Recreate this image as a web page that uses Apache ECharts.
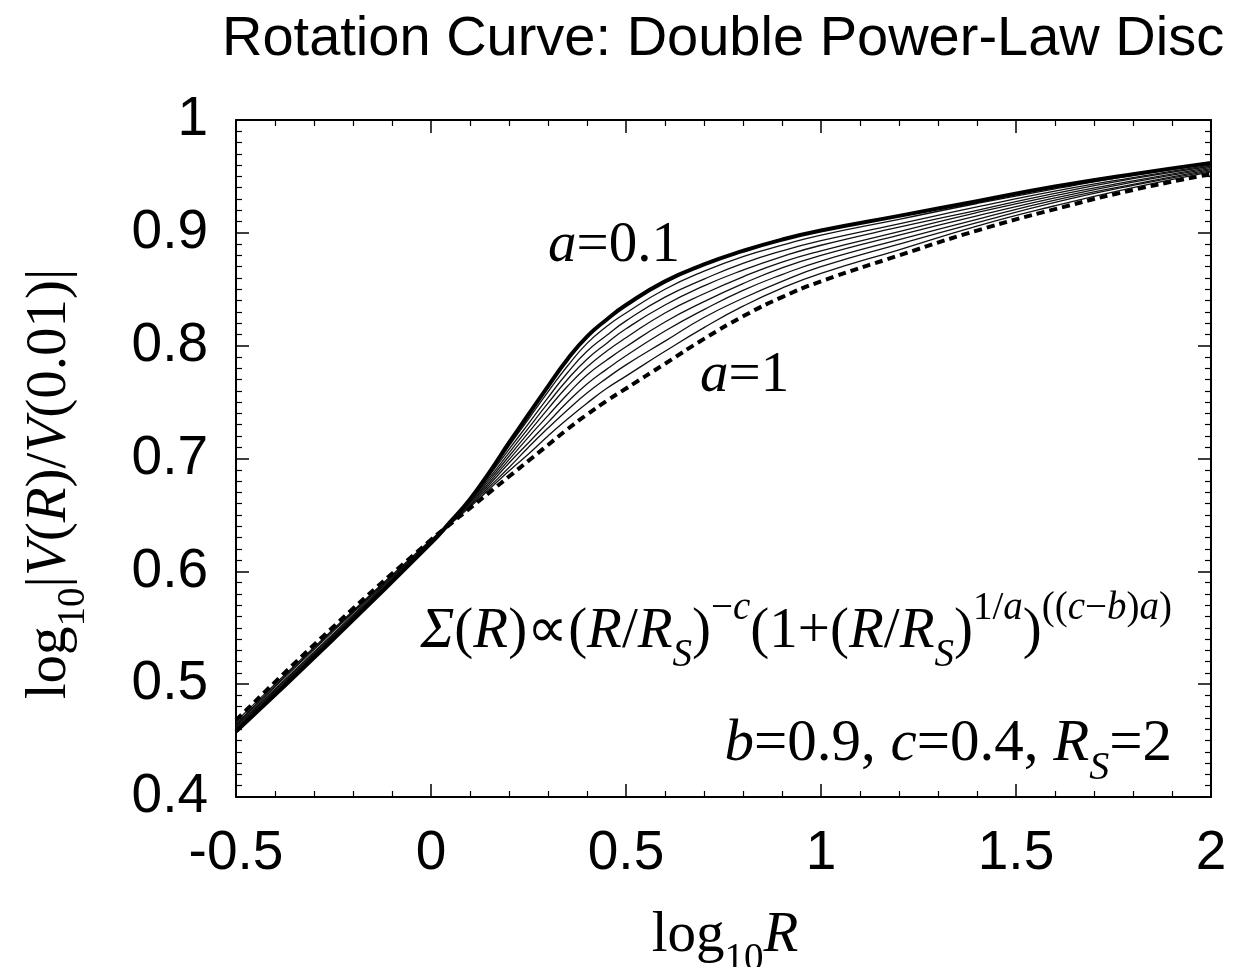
<!DOCTYPE html>
<html>
<head>
<meta charset="utf-8">
<script src="https://cdn.jsdelivr.net/npm/echarts@6/dist/echarts.min.js"></script>
<style>
html,body{margin:0;padding:0;background:#fff;}
#chart{width:1234px;height:967px;}
</style>
</head>
<body>
<div id="chart"></div>
<script>
// log10 R sample positions
const logR = [-0.5, -0.25, 0, 0.05, 0.1, 0.15, 0.2, 0.25, 0.3, 0.35, 0.4, 0.45, 0.5, 0.6, 0.7, 0.8, 0.9, 1.0, 1.2, 1.4, 1.6, 1.8, 2.0];
// log10|V(R)/V(0.01)| for each a
const a01 = [0.458, 0.540, 0.625, 0.644, 0.664, 0.688, 0.714, 0.739, 0.764, 0.788, 0.808, 0.823, 0.836, 0.857, 0.872, 0.884, 0.894, 0.902, 0.915, 0.928, 0.941, 0.952, 0.962];
const a02 = [0.459, 0.541, 0.625, 0.644, 0.663, 0.686, 0.711, 0.735, 0.759, 0.782, 0.802, 0.817, 0.829, 0.850, 0.866, 0.879, 0.889, 0.898, 0.912, 0.926, 0.939, 0.951, 0.961];
const a03 = [0.460, 0.542, 0.626, 0.644, 0.662, 0.685, 0.708, 0.731, 0.754, 0.776, 0.795, 0.809, 0.822, 0.843, 0.859, 0.873, 0.884, 0.893, 0.908, 0.923, 0.937, 0.949, 0.960];
const a04 = [0.461, 0.543, 0.626, 0.643, 0.662, 0.683, 0.705, 0.727, 0.749, 0.770, 0.788, 0.802, 0.815, 0.836, 0.853, 0.867, 0.879, 0.889, 0.905, 0.920, 0.935, 0.948, 0.959];
const a05 = [0.462, 0.544, 0.626, 0.643, 0.661, 0.681, 0.702, 0.723, 0.744, 0.764, 0.781, 0.795, 0.807, 0.829, 0.846, 0.861, 0.874, 0.884, 0.901, 0.918, 0.933, 0.946, 0.958];
const a06 = [0.463, 0.545, 0.627, 0.643, 0.660, 0.679, 0.699, 0.719, 0.738, 0.757, 0.774, 0.787, 0.799, 0.821, 0.839, 0.855, 0.869, 0.880, 0.898, 0.915, 0.931, 0.945, 0.957];
const a07 = [0.464, 0.547, 0.627, 0.643, 0.659, 0.677, 0.696, 0.714, 0.732, 0.750, 0.766, 0.779, 0.791, 0.813, 0.832, 0.849, 0.863, 0.875, 0.894, 0.912, 0.929, 0.943, 0.956];
const a08 = [0.465, 0.548, 0.627, 0.643, 0.658, 0.675, 0.692, 0.710, 0.727, 0.743, 0.758, 0.771, 0.783, 0.804, 0.825, 0.842, 0.857, 0.870, 0.890, 0.909, 0.927, 0.942, 0.955];
const a09 = [0.467, 0.549, 0.628, 0.642, 0.657, 0.673, 0.689, 0.704, 0.720, 0.735, 0.749, 0.762, 0.773, 0.795, 0.816, 0.835, 0.851, 0.864, 0.885, 0.906, 0.924, 0.940, 0.954];
const a10 = [0.468, 0.551, 0.628, 0.642, 0.656, 0.670, 0.684, 0.698, 0.712, 0.726, 0.739, 0.751, 0.762, 0.784, 0.806, 0.826, 0.843, 0.857, 0.880, 0.902, 0.921, 0.938, 0.952];

const thinCurves = [a02, a03, a04, a05, a06, a07, a08, a09];

const SANS = 'Liberation Sans';
const SERIF = 'Liberation Serif';

function pairs(arr){ return logR.map((x,i)=>[x, arr[i]]); }

function makeRich(fs){
  const sfs = Math.round(fs * 0.68);
  const lh = Math.round(fs * 1.5);
  return {
    n:   {fontFamily: SERIF, fontSize: fs, lineHeight: lh, verticalAlign: 'middle', color:'#000'},
    i:   {fontFamily: SERIF, fontSize: fs, fontStyle: 'italic', lineHeight: lh, verticalAlign: 'middle', color:'#000'},
    sub: {fontFamily: SERIF, fontSize: sfs, lineHeight: sfs, verticalAlign: 'bottom', color:'#000'},
    subi:{fontFamily: SERIF, fontSize: sfs, fontStyle: 'italic', lineHeight: sfs, verticalAlign: 'bottom', color:'#000'},
    sup: {fontFamily: SERIF, fontSize: sfs, lineHeight: sfs, verticalAlign: 'top', color:'#000'},
    supi:{fontFamily: SERIF, fontSize: sfs, fontStyle: 'italic', lineHeight: sfs, verticalAlign: 'top', color:'#000'}
  };
}
const rich = makeRich(57);
const richB = makeRich(59);

const SMOOTH = 0.5;
const series = [];
thinCurves.forEach((c, k) => {
  series.push({
    type: 'line', name: 'a=0.' + (k+2), data: pairs(c), smooth: SMOOTH, showSymbol: false,
    lineStyle: {color: '#111', width: 1.3}, z: 2, silent: true
  });
});
series.push({
  type: 'line', name: 'a=1', data: pairs(a10), smooth: SMOOTH, showSymbol: false,
  lineStyle: {color: '#000', width: 4, type: [8, 5]}, z: 3, silent: true
});
series.push({
  type: 'line', name: 'a=0.1', data: pairs(a01), smooth: SMOOTH, showSymbol: false,
  lineStyle: {color: '#000', width: 4}, z: 4, silent: true
});

const axisCommon = {
  type: 'value',
  axisLine: {show: true, onZero: false, lineStyle: {color: '#000', width: 2}},
  splitLine: {show: false},
  axisTick: {show: true, inside: true, length: 13, lineStyle: {color: '#000', width: 1.5}},
  minorTick: {show: true, length: 6, lineStyle: {color: '#000', width: 1.2}},
  axisLabel: {color: '#000', fontFamily: SANS, fontSize: 55}
};

const option = {
  animation: false,
  backgroundColor: '#fff',
  title: {
    text: 'Rotation Curve: Double Power-Law Disc',
    left: 217, top: 7,
    textStyle: {fontFamily: SANS, fontWeight: 'normal', fontSize: 56, color: '#000'}
  },
  grid: {left: 236, right: 23, top: 120, bottom: 170, containLabel: false},
  xAxis: [
    Object.assign({}, axisCommon, {position: 'bottom', min: -0.5, max: 2, interval: 0.5,
      minorTick: Object.assign({}, axisCommon.minorTick, {splitNumber: 5}),
      axisLabel: Object.assign({}, axisCommon.axisLabel, {margin: 29})}),
    Object.assign({}, axisCommon, {position: 'top', min: -0.5, max: 2, interval: 0.5,
      minorTick: Object.assign({}, axisCommon.minorTick, {splitNumber: 5}),
      axisLabel: {show: false}})
  ],
  yAxis: [
    Object.assign({}, axisCommon, {position: 'left', min: 0.4, max: 1, interval: 0.1,
      minorTick: Object.assign({}, axisCommon.minorTick, {splitNumber: 10}),
      axisLabel: Object.assign({}, axisCommon.axisLabel, {margin: 28})}),
    Object.assign({}, axisCommon, {position: 'right', min: 0.4, max: 1, interval: 0.1,
      minorTick: Object.assign({}, axisCommon.minorTick, {splitNumber: 10}),
      axisLabel: {show: false}})
  ],
  series: series,
  graphic: [
    {type: 'text', x: 548, y: 246, silent: true,
      style: {text: '{i|a}{n|=0.1}', rich: rich, align: 'left', verticalAlign: 'middle'}},
    {type: 'text', x: 700, y: 376, silent: true,
      style: {text: '{i|a}{n|=1}', rich: rich, align: 'left', verticalAlign: 'middle'}},
    {type: 'text', x: 1172, y: 632, silent: true,
      style: {text: '{i|Σ}{n|(}{i|R}{n|)∝(}{i|R}{n|/}{i|R}{subi|S}{n|)}{sup|−}{supi|c}{n|(1+(}{i|R}{n|/}{i|R}{subi|S}{n|)}{sup|1/}{supi|a}{n|)}{sup|((}{supi|c}{sup|−}{supi|b}{sup|)}{supi|a}{sup|)}',
        rich: rich, align: 'right', verticalAlign: 'middle'}},
    {type: 'text', x: 1172, y: 744, silent: true,
      style: {text: '{i|b}{n|=0.9, }{i|c}{n|=0.4, }{i|R}{subi|S}{n|=2}', rich: richB, align: 'right', verticalAlign: 'middle'}},
    {type: 'text', x: 725, y: 936, silent: true,
      style: {text: '{n|log}{sub|10}{i|R}', rich: rich, align: 'center', verticalAlign: 'middle'}},
    {type: 'text', x: 50, y: 484, rotation: Math.PI / 2, silent: true,
      style: {text: '{n|log}{sub|10}{n||}{i|V}{n|(}{i|R}{n|)/}{i|V}{n|(0.01)|}', rich: rich, align: 'center', verticalAlign: 'middle'}}
  ]
};

const chart = echarts.init(document.getElementById('chart'), null, {renderer: 'canvas'});
chart.setOption(option);
</script>
</body>
</html>
